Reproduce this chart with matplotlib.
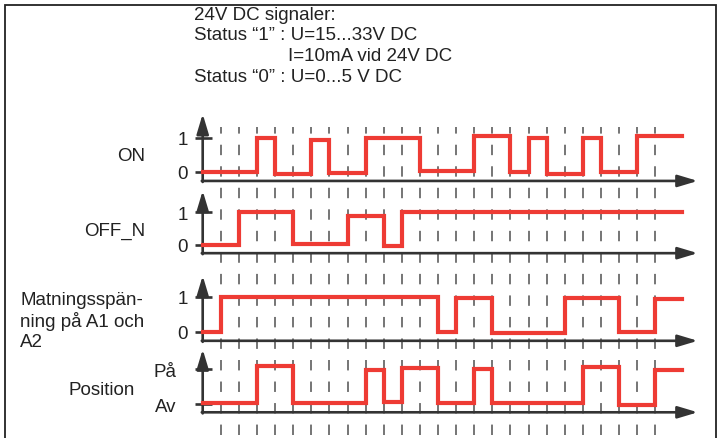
import matplotlib.pyplot as plt
from matplotlib.patches import Rectangle

plt.rcParams['font.family'] = ['Liberation Sans', 'DejaVu Sans']
plt.rcParams['lines.scale_dashes'] = False

W, H = 717, 439
RED = '#ee3b34'
AXC = '#333333'
FS = 13.5

# switching times (steps-post) and the level held from each time on
on_t = [0, 3, 4, 6, 7, 9, 12, 15, 17, 18, 19, 21, 22, 24, 26.5]
on_v = [0, 1, -0.07, 0.94, -0.04, 0.98, 0.03, 1.04, 0, 0.98, -0.07, 1, 0, 1.04, 1.04]

off_t = [0, 2, 5, 8, 10, 11, 26.5]
off_v = [0, 1, 0.03, 0.9, -0.04, 1.0, 1.0]

mat_t = [0, 1, 13, 14, 16, 20, 23, 25, 26.5]
mat_v = [0, 1, 0, 0.95, -0.05, 0.95, -0.02, 0.93, 0.93]

pos_t = [0, 3, 5, 9, 10, 11, 13, 15, 16, 21, 23, 25, 26.5]
pos_v = [0, 1.03, 0, 0.92, 0.04, 0.97, 0, 0.94, 0, 1, -0.05, 0.92, 0.92]

grid_t = list(range(1, 26))

tick_01 = ['0', '1']
tick_pos = ['Av', 'På']

# pixel layout of the time axis
T0, T1 = -1.5, 28
PX0, DT = 202.7, 18.1

fig = plt.figure(figsize=(W / 100, H / 100), dpi=100)


def axes_px(top, bot):
    left = PX0 + DT * T0
    right = PX0 + DT * T1
    return fig.add_axes([left / W, 1 - bot / H, (right - left) / W, (bot - top) / H])


# dashed time grid behind everything
gax = axes_px(128, 436)
gax.set_xlim(T0, T1)
gax.set_ylim(0, 1)
gax.axis('off')
gax.vlines(grid_t, 0, 1, colors='#505050', lw=1.1, linestyles=[(0, (7.5, 8))])


def panel(y0, y1, t, v, base, tip, ticks, tick_levels, tick_x, label, lab_x, lab_y,
          lab_ha='right'):
    lo, hi = -0.45, 1.8
    s = y0 - y1
    ax = axes_px(y0 - hi * s, y0 - lo * s)
    ax.set_xlim(T0, T1)
    ax.set_ylim(lo, hi)
    ax.axis('off')
    arrow = dict(arrowstyle='-|>,head_length=1.2,head_width=0.36', color=AXC,
                 lw=1.9, shrinkA=0, shrinkB=0, mutation_scale=10)
    ax.annotate('', xy=(27.35, base), xytext=(-0.05, base), arrowprops=arrow)
    ax.annotate('', xy=(0, tip), xytext=(0, base - 0.03), arrowprops=arrow)
    for lvl, txt in zip(tick_levels, ticks):
        ax.plot([-0.42, 0.52], [lvl, lvl], color=AXC, lw=1.9, solid_capstyle='butt')
        ax.text(tick_x, lvl, txt, ha='center' if len(txt) == 1 else 'right',
                va='center_baseline', fontsize=FS, color='#222222')
    ax.plot(t, v, drawstyle='steps-post', color=RED, lw=3, solid_joinstyle='miter',
            zorder=3)
    multi = '\n' in label
    ax.text(lab_x, lab_y, label, ha=lab_ha, va='center' if multi else 'center_baseline',
            fontsize=FS, color='#222222', linespacing=1.22)
    return ax


panel(172.7, 138.5, on_t, on_v, -0.27, 1.69, tick_01, [0, 1], -1.09, 'ON', -3.19, 0.52)
panel(246, 213.3, off_t, off_v, -0.25, 1.66, tick_01, [0, 1], -1.09, 'OFF_N', -3.19, 0.52)
panel(332.7, 297.7, mat_t, mat_v, -0.26, 1.6, tick_01, [0, 1], -1.09,
      'Matningsspän-\nning på A1 och\nA2', -10.09, 0.33, lab_ha='left')
panel(404.3, 368.3, pos_t, pos_v, -0.25, 1.5, tick_pos, [-0.02, 0.95], -1.47,
      'Position', -3.73, 0.45)

# header text (baselines in pixels)
head = [(194, 19.5, '24V DC signaler:'),
        (194, 40.5, 'Status “1” : U=15...33V DC'),
        (288, 61, 'I=10mA vid 24V DC'),
        (194, 81.5, 'Status “0” : U=0...5 V DC')]
for x, y, txt in head:
    fig.text(x / W, 1 - y / H, txt, ha='left', va='baseline', fontsize=FS, color='#222222')

fig.add_artist(Rectangle((5 / W, -0.1), 711 / W, 1.1 - 6.5 / H, transform=fig.transFigure,
                         fill=False, lw=1.3, ec='#222222'))

fig.savefig('out.png', dpi=100)
